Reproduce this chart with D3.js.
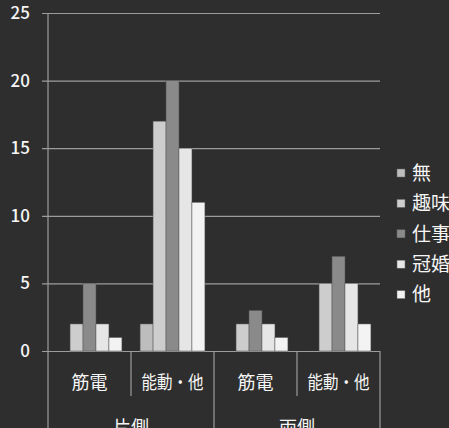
<!DOCTYPE html>
<html>
<head>
<meta charset="utf-8">
<script src="https://cdn.jsdelivr.net/npm/d3@7"></script>
<style>
  html, body { margin: 0; padding: 0; background: #2e2e2e; }
  svg { display: block; }
  text { font-family: "Noto Sans CJK JP", "Noto Sans", sans-serif; fill: #f6f6f6; }
</style>
</head>
<body>
<svg id="chart" width="449" height="428"></svg>
<script>
// Categories: side (片側 / 両側) × type (筋電 / 能動・他)
const groups = ["片側", "両側"];
const types = ["筋電", "能動・他"];
const seriesNames = ["無", "趣味", "仕事", "冠婚", "他"];
const seriesColors = ["#bdbdbd", "#cdcdcd", "#8a8a8a", "#e6e6e6", "#f3f3f3"];
const yTicks = [0, 5, 10, 15, 20, 25];

// values per series, in category order: 片側筋電, 片側能動・他, 両側筋電, 両側能動・他
const valNone     = [0, 2, 0, 0];
const valHobby    = [2, 17, 2, 5];
const valWork     = [5, 20, 3, 7];
const valCeremony = [2, 15, 2, 5];
const valOther    = [1, 11, 1, 2];
const seriesValues = [valNone, valHobby, valWork, valCeremony, valOther];

const categories = [];
groups.forEach(g => types.forEach(t => categories.push({ group: g, type: t, key: g + "|" + t })));

const svg = d3.select("#chart");
const plotLeft = 48, plotRight = 380, plotTop = 13, plotBottom = 351;

const x = d3.scaleBand().domain(categories.map(c => c.key)).range([plotLeft, plotRight]).paddingInner(0).paddingOuter(0);
const xs = d3.scaleBand().domain(seriesNames).range([0, x.bandwidth()]).paddingOuter(0.7).paddingInner(0);
const y = d3.scaleLinear().domain([0, 25]).range([plotBottom, plotTop]);

const lineColor = "#9c9c9c";

// horizontal gridlines with ticks
const yAxis = d3.axisLeft(y).tickValues(yTicks).tickSize(-(plotRight - plotLeft)).tickPadding(0);
const gy = svg.append("g").attr("transform", `translate(${plotLeft},0)`).call(yAxis);
gy.select(".domain").remove();
gy.selectAll(".tick line").attr("stroke", lineColor).attr("stroke-width", 1.2).attr("x1", -6);
gy.selectAll(".tick text").attr("x", -18).attr("font-size", 17).attr("font-weight", 500)
  .attr("font-family", null).style("fill", "#f6f6f6");

// vertical axis line
svg.append("line").attr("x1", plotLeft).attr("x2", plotLeft).attr("y1", plotTop).attr("y2", 428)
  .attr("stroke", lineColor).attr("stroke-width", 1.2);

// bars
seriesNames.forEach((s, si) => {
  svg.append("g").selectAll("rect")
    .data(categories.map((c, ci) => ({ c, v: seriesValues[si][ci] })))
    .join("rect")
    .attr("x", d => x(d.c.key) + xs(s))
    .attr("width", xs.bandwidth())
    .attr("y", d => y(d.v))
    .attr("height", d => y(0) - y(d.v))
    .attr("fill", seriesColors[si])
    .attr("stroke", "#555")
    .attr("stroke-width", 0.5);
});

// category separators: inner ones short, group boundaries long
categories.forEach((c, i) => {
  const xr = x(c.key) + x.bandwidth();
  const groupEnd = (i % types.length) === types.length - 1;
  svg.append("line").attr("x1", xr).attr("x2", xr)
    .attr("y1", plotBottom).attr("y2", groupEnd ? 428 : 396)
    .attr("stroke", lineColor).attr("stroke-width", 1.2);
});

// category labels (the compound label is kept compact)
svg.append("g").selectAll("text").data(categories).join("text")
  .attr("x", d => x(d.key) + x.bandwidth() / 2)
  .attr("y", 383)
  .attr("dy", "0.36em")
  .attr("text-anchor", "middle")
  .attr("font-size", 18)
  .each(function (d) {
    if (d.type.length > 2) d3.select(this).attr("textLength", 62).attr("lengthAdjust", "spacingAndGlyphs");
  })
  .text(d => d.type);

// group labels
groups.forEach(g => {
  const ks = categories.filter(c => c.group === g).map(c => x(c.key));
  const cx = (d3.min(ks) + d3.max(ks) + x.bandwidth()) / 2;
  svg.append("text").attr("x", cx).attr("y", 434).attr("text-anchor", "middle")
    .attr("font-size", 18).text(g);
});

// legend
const legend = svg.append("g").selectAll("g").data(seriesNames).join("g")
  .attr("transform", (d, i) => `translate(397, ${173 + i * 30.4})`);
legend.append("rect").attr("x", 0).attr("y", -4).attr("width", 8).attr("height", 8)
  .attr("fill", (d, i) => seriesColors[i]).attr("stroke", "#666").attr("stroke-width", 0.5);
legend.append("text").attr("x", 15).attr("y", 0).attr("dy", "0.36em")
  .attr("font-size", 19).text(d => d);
</script>
</body>
</html>
